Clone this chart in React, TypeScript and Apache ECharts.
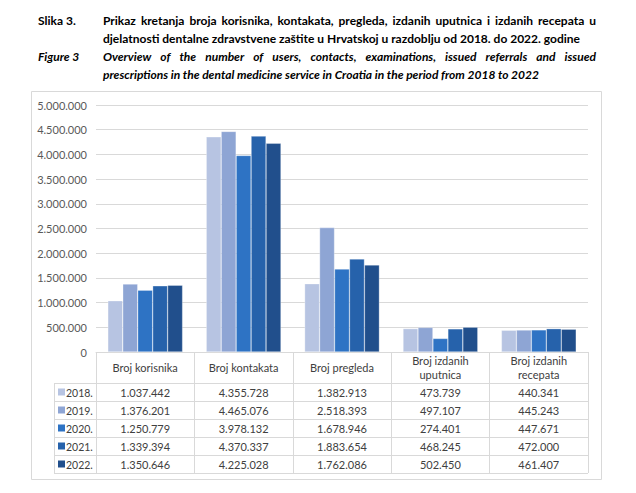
import React, { useEffect, useRef } from "react";
import * as echarts from "echarts";

const categories = [
  "Broj korisnika",
  "Broj kontakata",
  "Broj pregleda",
  "Broj izdanih\nuputnica",
  "Broj izdanih\nrecepata",
];
const years = ["2018.", "2019.", "2020.", "2021.", "2022."];
const v2018 = [1037442, 4355728, 1382913, 473739, 440341];
const v2019 = [1376201, 4465076, 2518393, 497107, 445243];
const v2020 = [1250779, 3978132, 1678946, 274401, 447671];
const v2021 = [1339394, 4370337, 1883654, 468245, 472000];
const v2022 = [1350646, 4225028, 1762086, 502450, 461407];
const seriesValues = [v2018, v2019, v2020, v2021, v2022];
const colors = ["#b7c4e2", "#8ea5d4", "#2e73c4", "#2662ab", "#214f8c"];

const titleLines = [
  { label: "Slika 3.", text: "Prikaz kretanja broja korisnika, kontakata, pregleda, izdanih uputnica i izdanih recepata u", justify: true, italic: false },
  { label: "", text: "djelatnosti dentalne zdravstvene zaštite u Hrvatskoj u razdoblju od 2018. do 2022. godine", justify: false, italic: false },
  { label: "Figure 3", text: "Overview of the number of users, contacts, examinations, issued referrals and issued", justify: true, italic: true },
  { label: "", text: "prescriptions in the dental medicine service in Croatia in the period from 2018 to 2022", justify: false, italic: true },
];

const fmt = (n: number) => String(n).replace(/\B(?=(\d{3})+(?!\d))/g, ".");

const FONT = "Lato, 'Noto Sans', sans-serif";

function measure(text: string, font: string) {
  const c = document.createElement("canvas").getContext("2d")!;
  c.font = font;
  return c.measureText(text).width;
}

export default function App() {
  const ref = useRef<HTMLDivElement>(null);
  useEffect(() => {
    if (!ref.current) return;
    const chart = echarts.init(ref.current, null, { renderer: "svg" });
    const W = 636;
    const gridL = 96, gridR = 588, gridT = 105, gridB = 352;
    const catW = (gridR - gridL) / categories.length;
    const rowTop = 383, rowH = 18;
    const tableFill = "#404040";
    const lineColor = "#d9d9d9";

    const graphics: any[] = [];
    graphics.push({
      type: "rect",
      shape: { x: 31.5, y: 91.5, width: 570, height: 388 },
      style: { fill: "none", stroke: lineColor, lineWidth: 1 },
      silent: true,
    });

    const lineYs = [20, 38, 56, 74];
    const textX0 = 103, textX1 = 596;
    titleLines.forEach((ln, i) => {
      const font = `${ln.italic ? "italic " : ""}bold 12px ${FONT}`;
      const fontStyle = ln.italic ? "italic" : "normal";
      const base = { fill: "#000", fontSize: 12, fontWeight: "bold", fontStyle, fontFamily: FONT, textVerticalAlign: "middle", verticalAlign: "middle" };
      if (ln.label) {
        graphics.push({ type: "text", x: 38, y: lineYs[i], style: { ...base, text: ln.label } });
      }
      if (ln.justify) {
        const words = ln.text.split(" ");
        const widths = words.map((w) => measure(w, font));
        const sum = widths.reduce((a, b) => a + b, 0);
        const gap = (textX1 - textX0 - sum) / (words.length - 1);
        let x = textX0;
        words.forEach((w, k) => {
          graphics.push({ type: "text", x, y: lineYs[i], style: { ...base, text: w } });
          x += widths[k] + gap;
        });
      } else {
        graphics.push({ type: "text", x: textX0, y: lineYs[i], style: { ...base, text: ln.text } });
      }
    });

    for (let r = 0; r <= years.length; r++) {
      const y = rowTop + r * rowH + 0.5;
      graphics.push({
        type: "line",
        shape: { x1: 54, y1: y, x2: gridR, y2: y },
        style: { stroke: lineColor, lineWidth: 1 },
        silent: true,
      });
    }
    graphics.push({
      type: "line",
      shape: { x1: 54.5, y1: rowTop, x2: 54.5, y2: rowTop + years.length * rowH },
      style: { stroke: lineColor, lineWidth: 1 },
      silent: true,
    });

    years.forEach((yr, r) => {
      const cy = rowTop + r * rowH + rowH / 2 + 0.5;
      graphics.push({
        type: "rect",
        shape: { x: 58, y: cy - 4, width: 7, height: 7 },
        style: { fill: colors[r] },
      });
      graphics.push({
        type: "text",
        x: 66,
        y: cy,
        style: { text: yr, fill: tableFill, fontSize: 10.5, fontFamily: FONT, textVerticalAlign: "middle", verticalAlign: "middle" },
      });
      seriesValues[r].forEach((v, c) => {
        graphics.push({
          type: "text",
          x: gridL + (c + 0.5) * catW,
          y: cy,
          style: { text: fmt(v), fill: tableFill, fontSize: 11, fontFamily: FONT, textAlign: "center", align: "center", textVerticalAlign: "middle", verticalAlign: "middle" },
        });
      });
    });

    chart.setOption({
      animation: false,
      textStyle: { fontFamily: FONT },
      grid: { left: gridL, right: W - gridR, top: gridT, bottom: 493 - gridB, containLabel: false },
      xAxis: {
        type: "category",
        data: categories,
        axisLine: { show: true, lineStyle: { color: lineColor } },
        axisTick: { show: true, length: 121, lineStyle: { color: lineColor } },
        axisLabel: { color: tableFill, fontSize: 11, margin: 15, verticalAlign: "middle", lineHeight: 14, interval: 0 },
      },
      yAxis: {
        type: "value",
        min: 0,
        max: 5000000,
        interval: 500000,
        axisLine: { show: false },
        axisTick: { show: false },
        splitLine: { lineStyle: { color: lineColor } },
        axisLabel: { color: "#595959", fontSize: 11, margin: 9, formatter: (v: number) => fmt(v) },
      },
      series: years.map((yr, i) => ({
        name: yr,
        type: "bar",
        data: seriesValues[i],
        barGap: "0%",
        barCategoryGap: "24%",
        itemStyle: { color: colors[i], borderColor: "rgba(255,255,255,0.6)", borderWidth: 0.5 },
      })),
      graphic: graphics,
    });
    return () => chart.dispose();
  }, []);
  return <div ref={ref} style={{ width: 636, height: 493, position: "absolute", left: 0, top: 0 }} />;
}
